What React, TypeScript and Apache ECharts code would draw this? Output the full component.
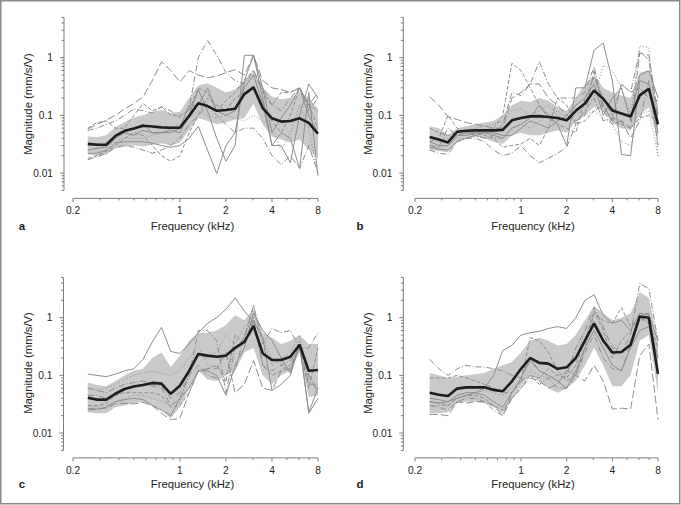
import React, { useEffect, useRef } from 'react';
import * as echarts from 'echarts';

// ---------- shared axes ----------
const FREQ_KHZ = [0.25, 0.287, 0.33, 0.379, 0.435, 0.5, 0.574, 0.66, 0.758, 0.871, 1, 1.149, 1.32, 1.516, 1.741, 2, 2.297, 2.639, 3.031, 3.482, 4, 4.595, 5.278, 6.063, 6.964, 8];
const X_MIN = 0.2;
const X_MAX = 8;
const Y_MIN = 0.005;
const Y_MAX = 5;
const X_MAJOR_TICKS = [0.2, 1, 2, 4, 8];
const X_MAJOR_LABELS = ['0.2', '1', '2', '4', '8'];
const X_MINOR_TICKS = [0.3, 0.4, 0.5, 0.6, 0.7, 0.8, 0.9, 3, 5, 6, 7];
const Y_MAJOR_TICKS = [0.01, 0.1, 1];
const Y_MAJOR_LABELS = ['0.01', '0.1', '1'];
const Y_MINOR_TICKS = [0.005, 0.006, 0.007, 0.008, 0.009, 0.02, 0.03, 0.04, 0.05, 0.06, 0.07, 0.08, 0.09, 0.2, 0.3, 0.4, 0.5, 0.6, 0.7, 0.8, 0.9, 2, 3, 4, 5];
const X_NAME = 'Frequency (kHz)';
const Y_NAME = 'Magnitude (mm/s/V)';
const PANEL_LETTERS = ['a', 'b', 'c', 'd'];

// ---------- panel a ----------
const A_MEAN = [0.032, 0.031, 0.031, 0.044, 0.054, 0.059, 0.066, 0.064, 0.062, 0.061, 0.061, 0.098, 0.162, 0.145, 0.12, 0.124, 0.13, 0.234, 0.306, 0.133, 0.089, 0.078, 0.08, 0.089, 0.074, 0.048];
const A_HIGH = [0.043, 0.042, 0.045, 0.063, 0.077, 0.092, 0.1, 0.115, 0.124, 0.11, 0.115, 0.2, 0.33, 0.36, 0.3, 0.25, 0.28, 0.4, 0.57, 0.3, 0.21, 0.19, 0.2, 0.25, 0.2, 0.13];
const A_LOW = [0.021, 0.02, 0.021, 0.027, 0.029, 0.03, 0.029, 0.031, 0.033, 0.03, 0.034, 0.056, 0.09, 0.08, 0.07, 0.075, 0.085, 0.09, 0.16, 0.07, 0.043, 0.038, 0.034, 0.038, 0.025, 0.018];
const A_EAR1 = [0.058, 0.07, 0.083, 0.1, 0.13, 0.16, 0.21, 0.4, 0.85, 0.6, 0.38, 0.6, 0.5, 0.45, 0.48, 0.55, 0.62, 0.5, 1.1, 0.4, 0.3, 0.28, 0.25, 0.3, 0.15, 0.25];
const A_EAR2 = [0.055, 0.06, 0.07, 0.08, 0.1, 0.13, 0.12, 0.11, 0.14, 0.12, 0.09, 0.13, 1.0, 2.0, 1.1, 0.55, 0.4, 0.35, 0.6, 0.3, 0.15, 0.12, 0.2, 0.3, 0.12, 0.2];
const A_EAR3 = [0.022, 0.022, 0.025, 0.033, 0.035, 0.035, 0.035, 0.033, 0.03, 0.028, 0.03, 0.04, 0.065, 0.025, 0.0098, 0.03, 0.05, 0.4, 1.1, 0.3, 0.05, 0.09, 0.15, 0.3, 0.1, 0.05];
const A_EAR4 = [0.025, 0.027, 0.028, 0.04, 0.05, 0.045, 0.055, 0.05, 0.05, 0.055, 0.05, 0.1, 0.28, 0.12, 0.04, 0.016, 0.03, 1.1, 1.1, 0.2, 0.03, 0.05, 0.04, 0.012, 0.25, 0.009];
const A_EAR5 = [0.018, 0.02, 0.024, 0.03, 0.04, 0.05, 0.045, 0.03, 0.02, 0.016, 0.02, 0.05, 0.1, 0.2, 0.15, 0.12, 0.2, 0.25, 0.3, 0.15, 0.08, 0.05, 0.1, 0.3, 0.15, 0.12];
const A_EAR6 = [0.025, 0.026, 0.03, 0.035, 0.04, 0.04, 0.04, 0.045, 0.05, 0.06, 0.07, 0.09, 0.12, 0.1, 0.09, 0.1, 0.09, 0.08, 0.1, 0.08, 0.06, 0.025, 0.05, 0.15, 0.06, 0.009];
const A_EAR7 = [0.017, 0.019, 0.022, 0.028, 0.03, 0.028, 0.025, 0.022, 0.025, 0.03, 0.04, 0.07, 0.1, 0.15, 0.1, 0.07, 0.05, 0.06, 0.06, 0.04, 0.02, 0.014, 0.02, 0.012, 0.03, 0.01];
const A_EAR8 = [0.06, 0.075, 0.08, 0.06, 0.06, 0.1, 0.16, 0.12, 0.14, 0.1, 0.1, 0.12, 0.3, 0.25, 0.12, 0.18, 0.25, 0.4, 0.6, 0.25, 0.15, 0.25, 0.25, 0.3, 0.15, 0.06];
const A_EAR9 = [0.03, 0.032, 0.03, 0.045, 0.05, 0.06, 0.07, 0.05, 0.05, 0.05, 0.06, 0.15, 0.15, 0.3, 0.12, 0.1, 0.12, 0.3, 0.5, 0.16, 0.03, 0.03, 0.015, 0.1, 0.35, 0.2];

// ---------- panel b ----------
const B_MEAN = [0.042, 0.038, 0.034, 0.052, 0.054, 0.055, 0.055, 0.055, 0.056, 0.082, 0.09, 0.096, 0.097, 0.094, 0.09, 0.082, 0.12, 0.16, 0.27, 0.194, 0.122, 0.108, 0.096, 0.222, 0.29, 0.07];
const B_HIGH = [0.065, 0.06, 0.045, 0.06, 0.065, 0.07, 0.075, 0.08, 0.1, 0.15, 0.18, 0.17, 0.2, 0.18, 0.14, 0.12, 0.2, 0.35, 0.5, 0.3, 0.25, 0.22, 0.2, 0.55, 0.6, 0.15];
const B_LOW = [0.025, 0.024, 0.023, 0.035, 0.04, 0.042, 0.04, 0.035, 0.032, 0.045, 0.05, 0.045, 0.045, 0.05, 0.055, 0.05, 0.08, 0.1, 0.14, 0.12, 0.075, 0.06, 0.055, 0.1, 0.14, 0.035];
const B_EAR1 = [0.21, 0.15, 0.095, 0.085, 0.075, 0.07, 0.065, 0.06, 0.06, 0.2, 0.25, 0.35, 0.35, 0.2, 0.15, 0.1, 0.08, 0.1, 0.6, 0.12, 0.07, 0.08, 0.06, 1.2, 1.1, 0.1];
const B_EAR2 = [0.06, 0.05, 0.045, 0.05, 0.05, 0.05, 0.055, 0.06, 0.1, 0.8, 0.6, 0.3, 0.15, 0.09, 0.07, 0.06, 0.05, 0.2, 0.45, 0.2, 0.1, 0.35, 0.25, 0.3, 0.2, 0.18];
const B_EAR3 = [0.03, 0.028, 0.06, 0.045, 0.05, 0.045, 0.04, 0.045, 0.07, 0.25, 0.22, 0.35, 0.85, 0.35, 0.2, 0.2, 0.2, 0.25, 0.7, 0.15, 0.08, 0.35, 0.25, 1.3, 0.9, 0.08];
const B_EAR4 = [0.025, 0.022, 0.021, 0.035, 0.04, 0.04, 0.035, 0.025, 0.02, 0.022, 0.03, 0.02, 0.015, 0.018, 0.022, 0.028, 0.07, 0.12, 0.2, 0.08, 0.09, 0.08, 0.04, 0.08, 0.4, 0.03];
const B_EAR5 = [0.035, 0.03, 0.03, 0.045, 0.045, 0.05, 0.05, 0.045, 0.04, 0.06, 0.07, 0.09, 0.15, 0.1, 0.07, 0.03, 0.3, 0.3, 1.35, 1.8, 0.4, 0.021, 0.02, 0.4, 0.35, 0.05];
const B_EAR6 = [0.04, 0.035, 0.04, 0.05, 0.055, 0.06, 0.065, 0.07, 0.08, 0.12, 0.13, 0.1, 0.12, 0.15, 0.1, 0.08, 0.1, 0.15, 0.2, 0.75, 0.6, 0.3, 0.1, 1.6, 1.5, 0.018];
const B_EAR7 = [0.028, 0.026, 0.025, 0.035, 0.04, 0.045, 0.05, 0.05, 0.045, 0.045, 0.06, 0.08, 0.07, 0.06, 0.08, 0.1, 0.15, 0.2, 0.35, 0.1, 0.2, 0.3, 0.08, 0.5, 0.6, 0.2];
const B_EAR8 = [0.035, 0.04, 0.1, 0.06, 0.05, 0.05, 0.045, 0.04, 0.028, 0.03, 0.032, 0.04, 0.03, 0.06, 0.2, 0.15, 0.07, 0.08, 0.12, 0.15, 0.08, 0.07, 0.06, 0.09, 0.1, 0.08];
const B_EAR9 = [0.03, 0.028, 0.03, 0.04, 0.04, 0.045, 0.04, 0.04, 0.04, 0.06, 0.07, 0.06, 0.08, 0.1, 0.12, 0.09, 0.08, 0.1, 0.12, 0.09, 0.07, 0.035, 0.03, 0.1, 0.12, 0.02];

// ---------- panel c ----------
const C_MEAN = [0.041, 0.038, 0.038, 0.048, 0.058, 0.064, 0.068, 0.074, 0.072, 0.048, 0.066, 0.12, 0.235, 0.22, 0.21, 0.22, 0.3, 0.38, 0.72, 0.24, 0.185, 0.185, 0.21, 0.34, 0.12, 0.124];
const C_HIGH = [0.075, 0.068, 0.065, 0.08, 0.1, 0.12, 0.13, 0.2, 0.25, 0.14, 0.22, 0.4, 0.55, 0.55, 0.6, 0.75, 1.1, 0.9, 1.4, 0.55, 0.45, 0.35, 0.4, 0.5, 0.35, 0.35];
const C_LOW = [0.023, 0.022, 0.022, 0.028, 0.03, 0.033, 0.035, 0.03, 0.025, 0.018, 0.028, 0.06, 0.12, 0.085, 0.08, 0.1, 0.12, 0.25, 0.3, 0.1, 0.07, 0.1, 0.12, 0.25, 0.042, 0.045];
const C_EAR1 = [0.105, 0.1, 0.095, 0.105, 0.12, 0.13, 0.19, 0.38, 0.68, 0.26, 0.24, 0.35, 0.55, 0.8, 1.0, 1.4, 2.2, 1.3, 0.85, 0.45, 0.055, 0.07, 0.1, 0.35, 0.023, 0.06];
const C_EAR2 = [0.06, 0.055, 0.06, 0.07, 0.085, 0.1, 0.11, 0.12, 0.11, 0.1, 0.12, 0.2, 0.33, 0.15, 0.14, 0.1, 0.3, 0.4, 1.7, 0.4, 0.15, 0.2, 0.25, 0.5, 0.08, 0.06];
const C_EAR3 = [0.045, 0.045, 0.04, 0.05, 0.06, 0.065, 0.07, 0.065, 0.06, 0.03, 0.04, 0.1, 0.6, 0.6, 0.4, 0.05, 0.3, 0.45, 1.6, 0.35, 0.65, 0.55, 0.6, 0.3, 0.3, 0.55];
const C_EAR4 = [0.027, 0.026, 0.027, 0.032, 0.033, 0.032, 0.034, 0.03, 0.022, 0.017, 0.018, 0.05, 0.12, 0.13, 0.13, 0.25, 0.05, 0.07, 0.18, 0.06, 0.055, 0.12, 0.13, 0.3, 0.1, 0.05];
const C_EAR5 = [0.03, 0.03, 0.033, 0.045, 0.05, 0.05, 0.05, 0.05, 0.045, 0.028, 0.03, 0.05, 0.12, 0.13, 0.15, 0.08, 0.5, 0.35, 0.9, 0.15, 0.1, 0.12, 0.15, 0.3, 0.06, 0.3];
const C_EAR6 = [0.025, 0.026, 0.028, 0.035, 0.038, 0.04, 0.038, 0.03, 0.025, 0.02, 0.04, 0.06, 0.12, 0.12, 0.1, 0.045, 0.15, 0.3, 1.2, 0.6, 0.4, 0.2, 0.11, 0.35, 0.022, 0.04];
const C_EAR7 = [0.06, 0.055, 0.05, 0.06, 0.07, 0.075, 0.08, 0.07, 0.065, 0.04, 0.05, 0.1, 0.15, 0.1, 0.09, 0.08, 0.12, 0.5, 1.0, 0.15, 0.12, 0.15, 0.18, 0.3, 0.07, 0.07];
const C_EAR8 = [0.03, 0.028, 0.03, 0.035, 0.04, 0.045, 0.045, 0.04, 0.035, 0.03, 0.035, 0.1, 0.22, 0.2, 0.25, 0.5, 0.35, 0.7, 0.9, 0.45, 0.2, 0.15, 0.12, 0.4, 0.1, 0.06];

// ---------- panel d ----------
const D_MEAN = [0.05, 0.046, 0.044, 0.059, 0.062, 0.062, 0.062, 0.056, 0.053, 0.079, 0.13, 0.2, 0.165, 0.16, 0.13, 0.138, 0.2, 0.4, 0.8, 0.4, 0.25, 0.255, 0.34, 1.05, 1.0, 0.106];
const D_HIGH = [0.11, 0.1, 0.09, 0.095, 0.1, 0.105, 0.11, 0.13, 0.15, 0.17, 0.25, 0.4, 0.45, 0.4, 0.33, 0.35, 0.5, 0.9, 1.6, 1.2, 0.9, 1.0, 1.2, 2.8, 2.2, 0.4];
const D_LOW = [0.022, 0.022, 0.023, 0.033, 0.035, 0.035, 0.033, 0.028, 0.022, 0.04, 0.065, 0.1, 0.08, 0.06, 0.05, 0.06, 0.08, 0.15, 0.3, 0.15, 0.065, 0.065, 0.1, 0.4, 0.5, 0.05];
const D_EAR1 = [0.035, 0.033, 0.035, 0.04, 0.045, 0.05, 0.06, 0.1, 0.27, 0.33, 0.5, 0.55, 0.58, 0.65, 0.7, 0.65, 1.0, 2.0, 2.5, 1.1, 0.8, 0.9, 0.6, 1.2, 1.1, 0.4];
const D_EAR2 = [0.19, 0.13, 0.1, 0.13, 0.15, 0.14, 0.14, 0.13, 0.12, 0.1, 0.09, 0.2, 0.12, 0.1, 0.08, 0.1, 0.3, 0.6, 1.5, 0.7, 0.3, 0.25, 0.5, 3.9, 3.2, 0.4];
const D_EAR3 = [0.021, 0.021, 0.02, 0.035, 0.033, 0.035, 0.035, 0.03, 0.02, 0.04, 0.06, 0.09, 0.08, 0.06, 0.07, 0.12, 0.1, 0.08, 0.15, 0.08, 0.026, 0.027, 0.026, 0.22, 0.35, 0.017];
const D_EAR4 = [0.09, 0.09, 0.09, 0.1, 0.09, 0.08, 0.07, 0.06, 0.05, 0.05, 0.08, 0.45, 0.4, 0.25, 0.12, 0.08, 0.1, 0.3, 1.2, 0.9, 0.8, 1.5, 0.7, 1.0, 0.8, 0.3];
const D_EAR5 = [0.03, 0.03, 0.03, 0.04, 0.045, 0.05, 0.055, 0.05, 0.045, 0.06, 0.08, 0.12, 0.1, 0.09, 0.1, 0.12, 0.2, 0.6, 0.9, 0.5, 0.35, 0.2, 0.4, 0.9, 0.9, 0.3];
const D_EAR6 = [0.04, 0.038, 0.035, 0.045, 0.05, 0.05, 0.045, 0.035, 0.028, 0.05, 0.09, 0.18, 0.12, 0.1, 0.08, 0.06, 0.12, 0.3, 0.6, 0.3, 0.15, 0.12, 0.3, 0.6, 0.7, 0.2];
const D_EAR7 = [0.03, 0.028, 0.025, 0.035, 0.04, 0.04, 0.035, 0.025, 0.02, 0.05, 0.08, 0.1, 0.07, 0.09, 0.06, 0.06, 0.1, 0.25, 0.5, 0.2, 0.13, 0.12, 0.35, 1.1, 1.2, 0.1];
const D_EAR8 = [0.035, 0.033, 0.03, 0.04, 0.045, 0.045, 0.04, 0.03, 0.025, 0.04, 0.06, 0.1, 0.09, 0.13, 0.1, 0.09, 0.15, 0.4, 1.3, 0.6, 0.2, 0.4, 0.6, 1.0, 0.9, 0.2];

// ---------- styles & layout ----------
const SOLID = 'solid';
const LONGDASH = [8, 3];
const DASH = [4, 2];
const DASHDOT = [6, 2, 1, 2];
const DOT = [1, 2];

const PANELS = [
  { mean: A_MEAN, high: A_HIGH, low: A_LOW, ears: [A_EAR1, A_EAR2, A_EAR3, A_EAR4, A_EAR5, A_EAR6, A_EAR7, A_EAR8, A_EAR9], dashes: [LONGDASH, DASHDOT, SOLID, SOLID, DASH, DOT, DASHDOT, DASH, SOLID] },
  { mean: B_MEAN, high: B_HIGH, low: B_LOW, ears: [B_EAR1, B_EAR2, B_EAR3, B_EAR4, B_EAR5, B_EAR6, B_EAR7, B_EAR8, B_EAR9], dashes: [LONGDASH, DASH, DASHDOT, DASHDOT, SOLID, DOT, SOLID, DASH, DOT] },
  { mean: C_MEAN, high: C_HIGH, low: C_LOW, ears: [C_EAR1, C_EAR2, C_EAR3, C_EAR4, C_EAR5, C_EAR6, C_EAR7, C_EAR8], dashes: [SOLID, DOT, DASHDOT, LONGDASH, DASH, SOLID, DASHDOT, DOT] },
  { mean: D_MEAN, high: D_HIGH, low: D_LOW, ears: [D_EAR1, D_EAR2, D_EAR3, D_EAR4, D_EAR5, D_EAR6, D_EAR7, D_EAR8], dashes: [SOLID, DASHDOT, LONGDASH, DASH, DOT, SOLID, DASHDOT, DASH] },
];

const LAYOUT = [
  { left: 73, top: 17.4, width: 245, height: 173, yOff: 9, xOff: 8, letterX: 22, letterY: 225.5, xNameX: 192.5, xNameY: 225.5, yNameX: 28.3, yNameY: 104 },
  { left: 415, top: 17.4, width: 243, height: 173, yOff: 11.7, xOff: 8, letterX: 360, letterY: 225.5, xNameX: 533, xNameY: 225.5, yNameX: 368.3, yNameY: 104 },
  { left: 73, top: 277.4, width: 245, height: 173, yOff: 9.5, xOff: 7.5, letterX: 22, letterY: 484.3, xNameX: 192.5, xNameY: 484.3, yNameX: 28.3, yNameY: 363 },
  { left: 415, top: 277.4, width: 243, height: 173, yOff: 11.7, xOff: 7.5, letterX: 360, letterY: 484.3, xNameX: 533, xNameY: 484.3, yNameX: 368.3, yNameY: 363 },
];

const FONT = '"Liberation Sans", Arial, sans-serif';
const NAME_SIZE = 11.3;
const TICK_SIZE = 10.2;
const TEXT_COLOR = '#231f20';
const AXIS_COLOR = '#7d7d7d';
const EAR_COLOR = '#8e8e8e';
const BAND_COLOR = '#c9c9c9';
const MEAN_COLOR = '#1e1e1e';

function txt(x: number, y: number, text: string, align: string, vAlign: string, size: number, extra: any = {}) {
  return {
    type: 'text',
    x,
    y,
    ...extra,
    style: {
      text,
      fill: TEXT_COLOR,
      fontSize: size,
      fontWeight: extra.fontWeight || 'normal',
      fontFamily: FONT,
      align,
      verticalAlign: vAlign,
      textAlign: align,
      textVerticalAlign: vAlign,
    },
  };
}

function buildOption() {
  const grid: any[] = [];
  const xAxis: any[] = [];
  const yAxis: any[] = [];
  const series: any[] = [];
  const graphic: any[] = [];

  graphic.push({
    type: 'rect',
    shape: { x: 0.75, y: 0.75, width: 679, height: 503 },
    style: { fill: 'none', stroke: '#8a8a8a', lineWidth: 1.5 },
    silent: true,
  });

  PANELS.forEach((p, i) => {
    const L = LAYOUT[i];
    grid.push({ left: L.left, top: L.top, width: L.width, height: L.height, containLabel: false });
    xAxis.push({ type: 'log', logBase: 10, gridIndex: i, min: X_MIN, max: X_MAX, show: false });
    yAxis.push({ type: 'log', logBase: 10, gridIndex: i, min: Y_MIN, max: Y_MAX, show: false });

    // shaded band
    series.push({
      type: 'custom',
      xAxisIndex: i,
      yAxisIndex: i,
      clip: false,
      silent: true,
      z: 1,
      data: [[1, 1]],
      renderItem: (params: any, api: any) => {
        const pts: number[][] = [];
        for (let k = 0; k < FREQ_KHZ.length; k++) pts.push(api.coord([FREQ_KHZ[k], p.high[k]]));
        for (let k = FREQ_KHZ.length - 1; k >= 0; k--) pts.push(api.coord([FREQ_KHZ[k], p.low[k]]));
        return { type: 'polygon', shape: { points: pts }, style: { fill: BAND_COLOR, stroke: 'none' } };
      },
    });

    // individual ears
    p.ears.forEach((ear, j) => {
      series.push({
        type: 'line',
        xAxisIndex: i,
        yAxisIndex: i,
        z: 2,
        symbol: 'none',
        silent: true,
        data: FREQ_KHZ.map((f, k) => [f, ear[k]]),
        lineStyle: { color: EAR_COLOR, width: 1, type: p.dashes[j] },
      });
    });

    // mean
    series.push({
      type: 'line',
      xAxisIndex: i,
      yAxisIndex: i,
      z: 3,
      symbol: 'none',
      silent: true,
      data: FREQ_KHZ.map((f, k) => [f, p.mean[k]]),
      lineStyle: { color: MEAN_COLOR, width: 2.6 },
    });

    // axes drawn through the grid's scales
    series.push({
      type: 'custom',
      xAxisIndex: i,
      yAxisIndex: i,
      clip: false,
      silent: true,
      z: 4,
      data: [[1, 1]],
      renderItem: (params: any, api: any) => {
        const children: any[] = [];
        const bl = api.coord([X_MIN, Y_MIN]);
        const tr = api.coord([X_MAX, Y_MAX]);
        const ax = bl[0] - L.yOff;
        const ay = bl[1] + L.xOff;
        const line = (x1: number, y1: number, x2: number, y2: number) => ({
          type: 'line',
          shape: { x1, y1, x2, y2 },
          style: { stroke: AXIS_COLOR, lineWidth: 1 },
        });
        children.push(line(ax, bl[1], ax, tr[1]));
        children.push(line(bl[0], ay, tr[0], ay));
        Y_MINOR_TICKS.forEach((v) => {
          const y = api.coord([X_MIN, v])[1];
          children.push(line(ax - 2.5, y, ax, y));
        });
        Y_MAJOR_TICKS.forEach((v, k) => {
          const y = api.coord([X_MIN, v])[1];
          children.push(line(ax - 4, y, ax, y));
          children.push(txt(ax - 11, y, Y_MAJOR_LABELS[k], 'right', 'middle', TICK_SIZE));
        });
        X_MINOR_TICKS.forEach((v) => {
          const x = api.coord([v, Y_MIN])[0];
          children.push(line(x, ay, x, ay + 2));
        });
        X_MAJOR_TICKS.forEach((v, k) => {
          const x = api.coord([v, Y_MIN])[0];
          children.push(line(x, ay, x, ay + 3.5));
          children.push(txt(x, ay + 12.5, X_MAJOR_LABELS[k], 'center', 'middle', TICK_SIZE));
        });
        return { type: 'group', children };
      },
    });

    graphic.push(txt(L.xNameX, L.xNameY, X_NAME, 'center', 'middle', NAME_SIZE));
    graphic.push(txt(L.yNameX, L.yNameY, Y_NAME, 'center', 'middle', NAME_SIZE, { rotation: Math.PI / 2 }));
    graphic.push(txt(L.letterX, L.letterY, PANEL_LETTERS[i], 'center', 'middle', 11.5, { fontWeight: 'bold' }));
  });

  return { animation: false, backgroundColor: '#ffffff', grid, xAxis, yAxis, series, graphic };
}

export default function App() {
  const ref = useRef<HTMLDivElement>(null);
  useEffect(() => {
    if (!ref.current) return;
    const chart = echarts.init(ref.current, undefined, { renderer: 'svg' });
    chart.setOption(buildOption() as any);
    return () => chart.dispose();
  }, []);
  return <div ref={ref} style={{ position: 'absolute', left: 0, top: 0, width: 681, height: 505 }} />;
}
